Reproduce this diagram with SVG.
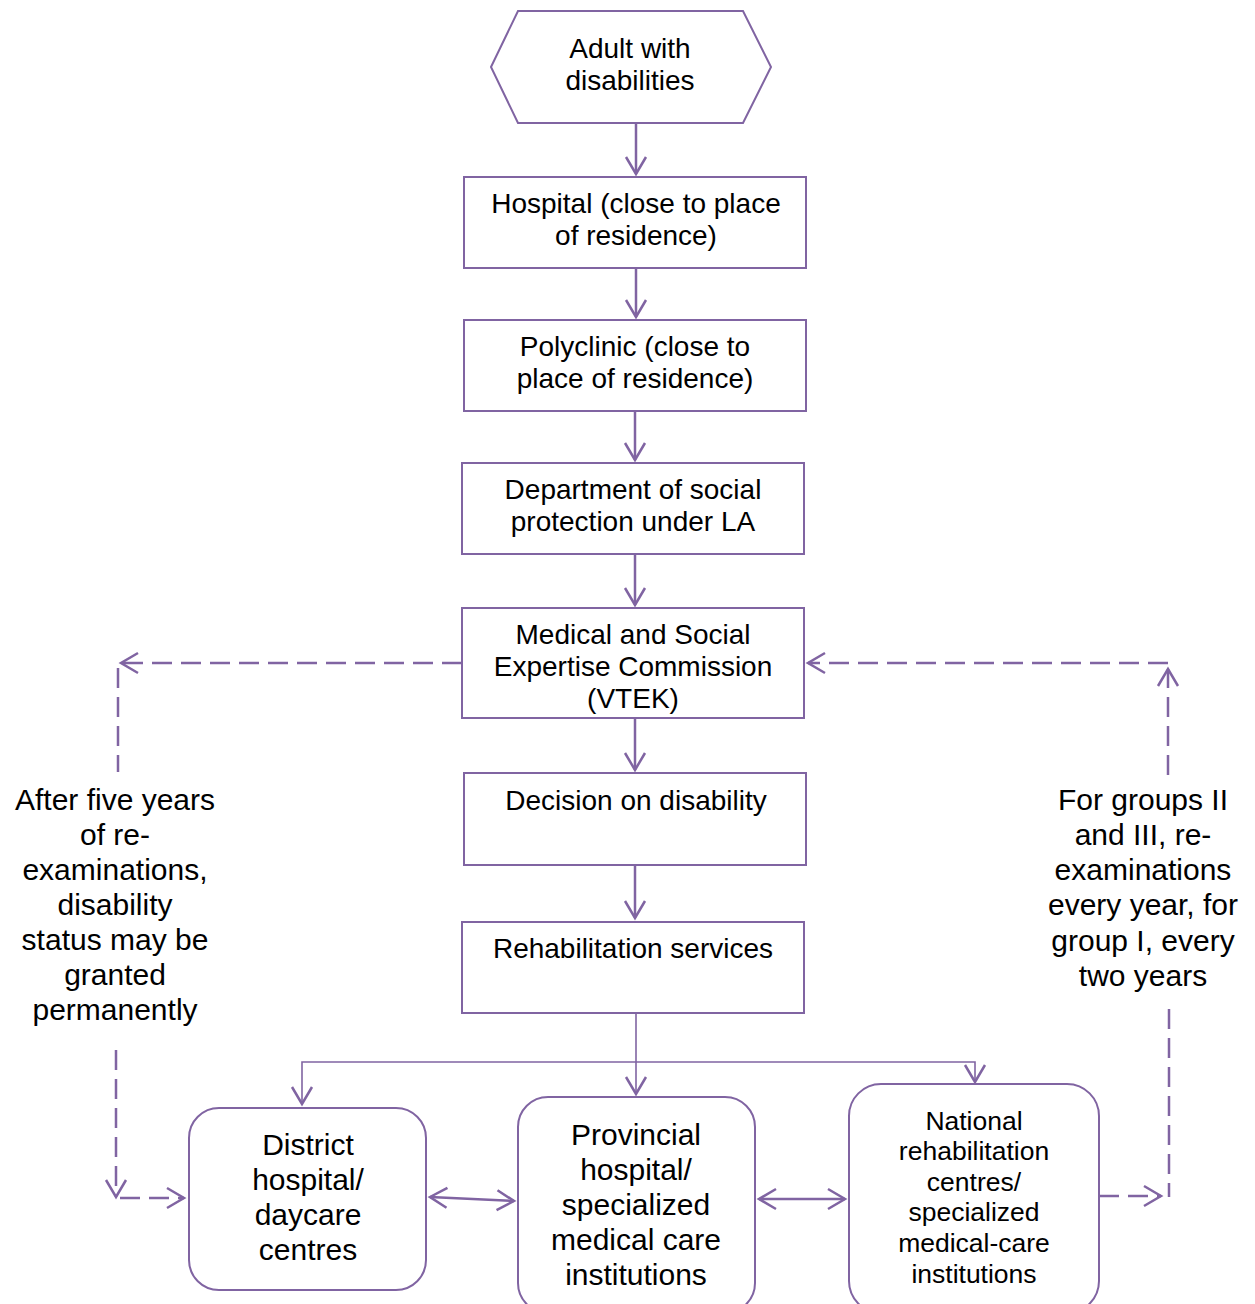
<svg xmlns="http://www.w3.org/2000/svg" width="1255" height="1304" viewBox="0 0 1255 1304">
<style>
  .box { fill: #ffffff; stroke: #8064A2; stroke-width: 2; }
  .t { font-family: "Liberation Sans", Arial, sans-serif; font-size: 28px; fill: #000000; text-anchor: middle; }
  .tl { font-family: "Liberation Sans", Arial, sans-serif; font-size: 30px; fill: #000000; text-anchor: middle; }
  .tn { font-family: "Liberation Sans", Arial, sans-serif; font-size: 26.5px; fill: #000000; text-anchor: middle; }
  .c { fill: none; stroke: #8064A2; stroke-width: 2.5; }
  .thin { fill: none; stroke: #8064A2; stroke-width: 1.6; }
  .dash { fill: none; stroke: #8064A2; stroke-width: 2.5; stroke-dasharray: 20 9; }
</style>
<defs>
  <marker id="ah" viewBox="-22 -13 26 26" refX="0" refY="0" markerWidth="26" markerHeight="26" markerUnits="userSpaceOnUse" orient="auto-start-reverse">
    <path d="M-17,-10 L0,0 L-17,10" fill="none" stroke="#8064A2" stroke-width="2.5" stroke-dasharray="none"/>
  </marker>
</defs>

<g id="connectors">
  <line class="c" x1="636" y1="123" x2="636" y2="174" marker-end="url(#ah)"/>
  <line class="c" x1="636" y1="268" x2="636" y2="317" marker-end="url(#ah)"/>
  <line class="c" x1="635" y1="411" x2="635" y2="460" marker-end="url(#ah)"/>
  <line class="c" x1="635" y1="554" x2="635" y2="605" marker-end="url(#ah)"/>
  <line class="c" x1="635" y1="718" x2="635" y2="770" marker-end="url(#ah)"/>
  <line class="c" x1="635" y1="865" x2="635" y2="918" marker-end="url(#ah)"/>

  <line class="thin" x1="636" y1="1013" x2="636" y2="1094" marker-end="url(#ah)"/>
  <polyline class="thin" points="302,1104 302,1062 975,1062 975,1082" marker-start="url(#ah)" marker-end="url(#ah)"/>

  <line class="c" x1="430" y1="1197" x2="514" y2="1201" marker-start="url(#ah)" marker-end="url(#ah)"/>
  <line class="c" x1="759" y1="1199" x2="845" y2="1199" marker-start="url(#ah)" marker-end="url(#ah)"/>

  <line class="dash" x1="462" y1="663" x2="121" y2="663" marker-end="url(#ah)"/>
  <line class="dash" x1="118" y1="668" x2="118" y2="772"/>

  <line class="dash" x1="116" y1="1050" x2="116" y2="1197" marker-end="url(#ah)"/>
  <line class="dash" x1="120" y1="1198" x2="184" y2="1198" marker-end="url(#ah)"/>

  <line class="dash" x1="1099" y1="1196" x2="1161" y2="1196" marker-end="url(#ah)"/>
  <line class="dash" x1="1169" y1="1009" x2="1169" y2="1197" stroke-dasharray="2 10 20 8 20 8 20 8 20 8 20 9 20 9 2"/>

  <line class="dash" x1="1168" y1="775" x2="1168" y2="669" marker-end="url(#ah)"/>
  <line class="dash" x1="1168" y1="663" x2="808" y2="663" marker-end="url(#ah)"/>
</g>

<g id="adult">
  <polygon class="box" points="491,67 518,11 743,11 771,67 743,123 518,123"/>
  <text class="t" x="630" y="58">Adult with</text>
  <text class="t" x="630" y="90">disabilities</text>
</g>
<g id="hospital">
  <rect class="box" x="464" y="177" width="342" height="91"/>
  <text class="t" x="636" y="213">Hospital (close to place</text>
  <text class="t" x="636" y="245">of residence)</text>
</g>
<g id="polyclinic">
  <rect class="box" x="464" y="320" width="342" height="91"/>
  <text class="t" x="635" y="356">Polyclinic (close to</text>
  <text class="t" x="635" y="388">place of residence)</text>
</g>
<g id="dept">
  <rect class="box" x="462" y="463" width="342" height="91"/>
  <text class="t" x="633" y="499">Department of social</text>
  <text class="t" x="633" y="531">protection under LA</text>
</g>
<g id="vtek">
  <rect class="box" x="462" y="608" width="342" height="110"/>
  <text class="t" x="633" y="644">Medical and Social</text>
  <text class="t" x="633" y="676">Expertise Commission</text>
  <text class="t" x="633" y="708">(VTEK)</text>
</g>
<g id="decision">
  <rect class="box" x="464" y="773" width="342" height="92"/>
  <text class="t" x="636" y="810">Decision on disability</text>
</g>
<g id="rehab">
  <rect class="box" x="462" y="922" width="342" height="91"/>
  <text class="t" x="633" y="958">Rehabilitation services</text>
</g>

<g id="label-left">
  <text class="tl" x="115" y="810">After five years</text>
  <text class="tl" x="115" y="845">of re-</text>
  <text class="tl" x="115" y="880">examinations,</text>
  <text class="tl" x="115" y="915">disability</text>
  <text class="tl" x="115" y="950">status may be</text>
  <text class="tl" x="115" y="985">granted</text>
  <text class="tl" x="115" y="1020">permanently</text>
</g>
<g id="label-right">
  <text class="tl" x="1143" y="810">For groups II</text>
  <text class="tl" x="1143" y="845">and III, re-</text>
  <text class="tl" x="1143" y="880">examinations</text>
  <text class="tl" x="1143" y="915">every year, for</text>
  <text class="tl" x="1143" y="951">group I, every</text>
  <text class="tl" x="1143" y="986">two years</text>
</g>

<g id="district">
  <rect class="box" x="189" y="1108" width="237" height="182" rx="30"/>
  <text class="tl" x="308" y="1155">District</text>
  <text class="tl" x="308" y="1190">hospital/</text>
  <text class="tl" x="308" y="1225">daycare</text>
  <text class="tl" x="308" y="1260">centres</text>
</g>
<g id="provincial">
  <rect class="box" x="518" y="1097" width="237" height="216" rx="30"/>
  <text class="tl" x="636" y="1145">Provincial</text>
  <text class="tl" x="636" y="1180">hospital/</text>
  <text class="tl" x="636" y="1215">specialized</text>
  <text class="tl" x="636" y="1250">medical care</text>
  <text class="tl" x="636" y="1285">institutions</text>
</g>
<g id="national">
  <rect class="box" x="849" y="1084" width="250" height="229" rx="32"/>
  <text class="tn" x="974" y="1130">National</text>
  <text class="tn" x="974" y="1160">rehabilitation</text>
  <text class="tn" x="974" y="1191">centres/</text>
  <text class="tn" x="974" y="1221">specialized</text>
  <text class="tn" x="974" y="1252">medical-care</text>
  <text class="tn" x="974" y="1283">institutions</text>
</g>
</svg>
